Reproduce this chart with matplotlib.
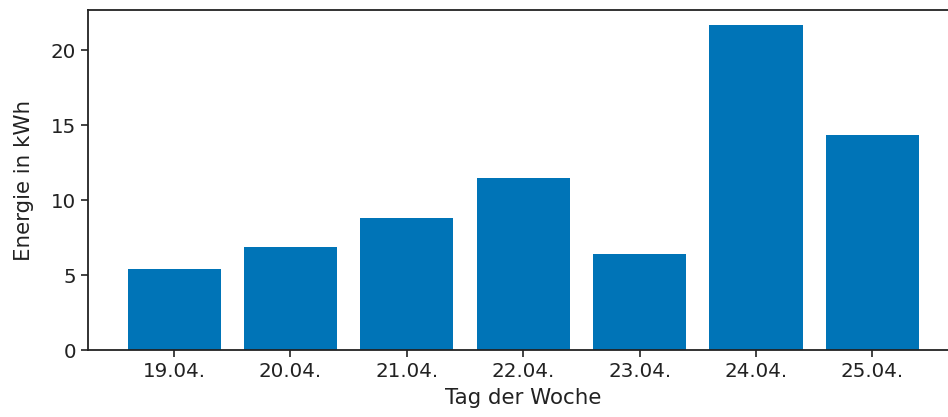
import matplotlib.pyplot as plt

# daily energy values
days = ['19.04.', '20.04.', '21.04.', '22.04.', '23.04.', '24.04.', '25.04.']
energy = [5.42, 6.85, 8.8, 11.5, 6.42, 21.7, 14.33]

fig = plt.figure(figsize=(9.48, 4.17), dpi=100)
# axes run slightly past the right edge, as in the reference crop
ax = fig.add_axes([88 / 948, 67 / 417, 870.5 / 948, 340 / 417])

ax.bar(range(len(days)), energy, color='#0074b7', width=0.8)
ax.set_xticks(range(len(days)))
ax.set_xticklabels(days)
ax.set_xlim(-0.74, 6.74)
ax.set_ylim(0, 22.67)
ax.set_yticks([0, 5, 10, 15, 20])

ax.tick_params(labelsize=14.3, length=5, width=1.2, color='#222222', labelcolor='#222222')
ax.set_xlabel('Tag der Woche', fontsize=15.4, color='#222222')
ax.set_ylabel('Energie in kWh', fontsize=15.4, color='#222222')
ax.xaxis.set_label_coords(0.5, -0.113)
ax.yaxis.set_label_coords(-0.062, 0.5)
for s in ax.spines.values():
    s.set_linewidth(1.3)
    s.set_color('#222222')

fig.savefig('out.png', dpi=100)
